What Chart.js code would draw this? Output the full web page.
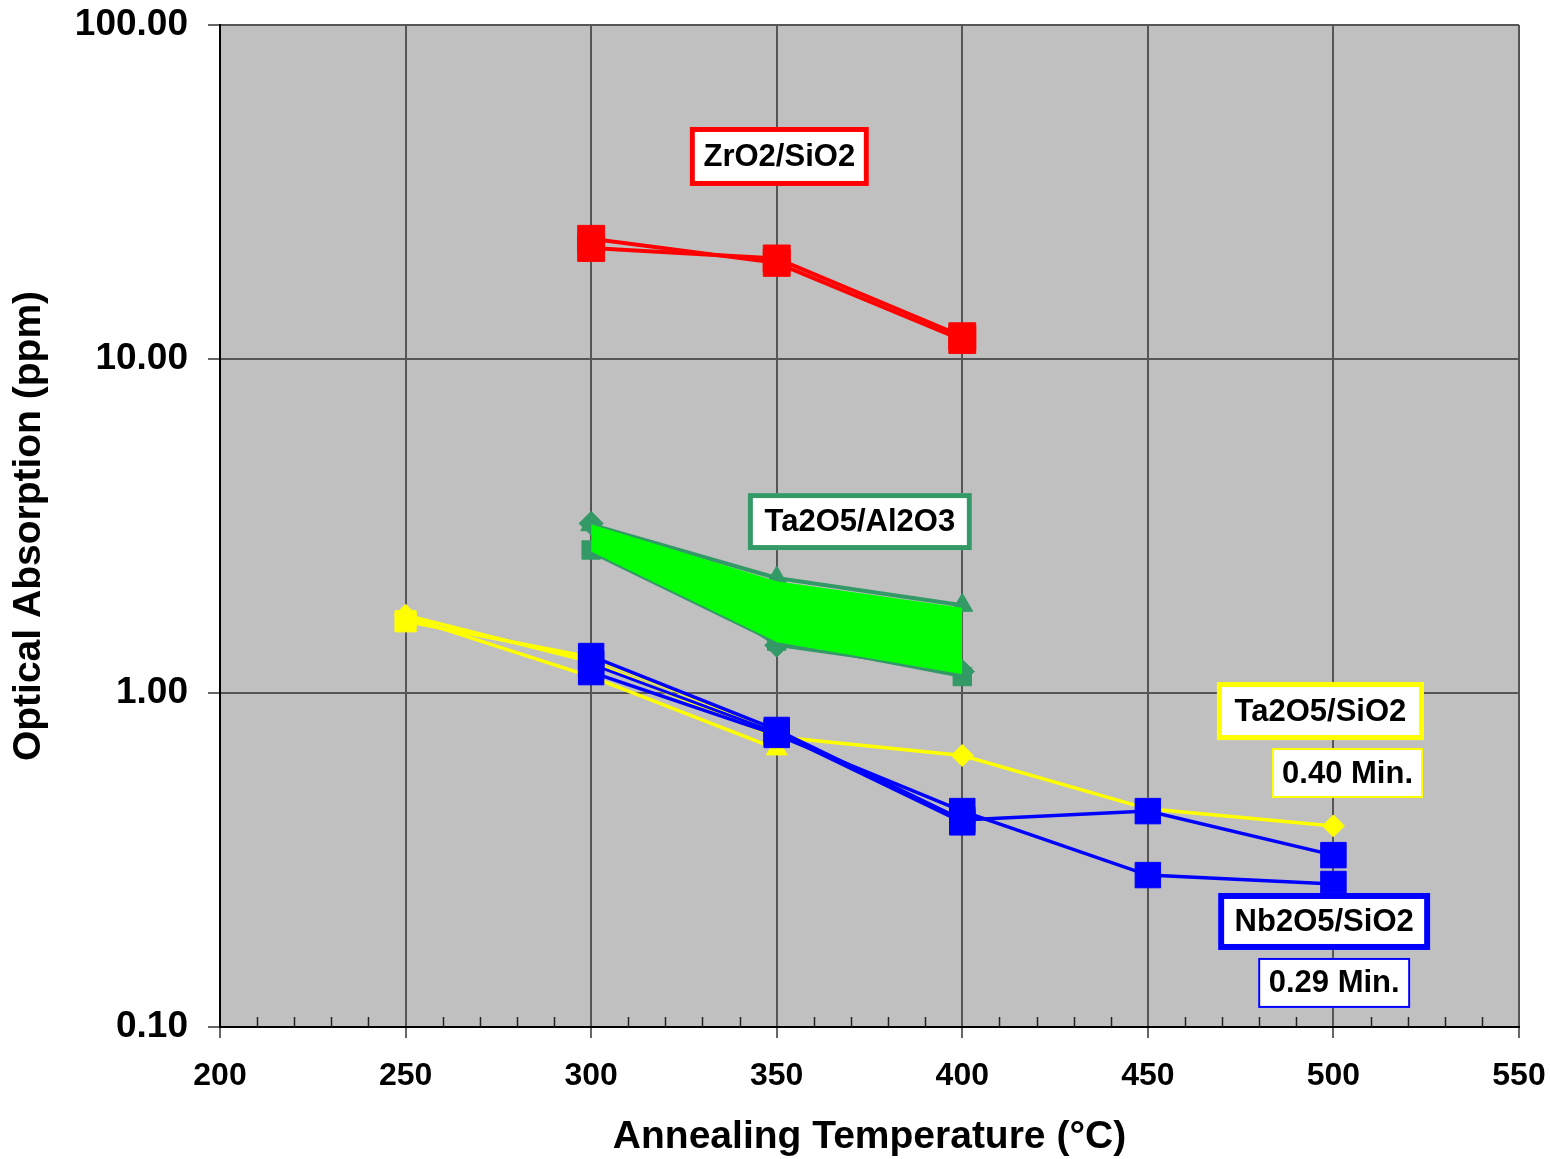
<!DOCTYPE html>
<html>
<head>
<meta charset="utf-8">
<script src="https://cdn.jsdelivr.net/npm/chart.js@4.4.0/dist/chart.umd.min.js"></script>
<style>
  html, body { margin: 0; padding: 0; background: #fff; }
  canvas { display: block; }
</style>
</head>
<body>
<canvas id="absChart" width="1550" height="1159"></canvas>
<script>
// annealing temperatures (°C)
var temps = [250, 300, 350, 400, 450, 500];

// ZrO2/SiO2 runs
var zrA = [null, 22.9, 19.4, 11.4, null, null];
var zrB = [null, 21.5, 20.0, 11.7, null, null];

// Nb2O5/SiO2 runs
var nbA = [null, 1.29, 0.775, 0.417, 0.443, 0.327];
var nbB = [null, 1.155, 0.749, 0.443, 0.285, 0.268];
var nbC = [null, 1.22, 0.76, 0.41, null, null];

// Ta2O5/SiO2 runs
var taSiDia = [1.71, 1.24, 0.74, 0.65, 0.45, 0.40];
var taSiSq  = [1.64, 1.28, 0.77, null, null, null];
var taSiTri = [1.69, 1.12, 0.68, null, null, null];

// Ta2O5/Al2O3 runs + shaded band
var taAlTri = [null, 3.19, 2.21, 1.83, null, null];
var taAlDia = [null, 3.22, 1.39, 1.16, null, null];
var taAlSq  = [null, 2.68, 1.43, 1.12, null, null];
var bandTop = [null, 3.2, 2.16, 1.80, null, null];
var bandBot = [null, 2.63, 1.41, 1.13, null, null];

var yTicks = [0.1, 1, 10, 100];

var fontFam = "'Liberation Sans', Arial, sans-serif";
Chart.defaults.font.family = fontFam;

function pts(vals) {
    return temps.map(function(t, i) { return {x: t, y: vals[i]}; })
                .filter(function(p) { return p.y !== null; });
}

function series(vals, color, style, radius, width) {
    return {
        data: pts(vals),
        borderColor: color,
        backgroundColor: color,
        borderWidth: width,
        pointStyle: style,
        pointRadius: radius,
        pointBorderWidth: 1,
        pointBorderColor: color,
        pointBackgroundColor: color,
        fill: false,
        tension: 0
    };
}

var RED = '#FF0000', BLUE = '#0000FF', YEL = '#FFFF00', SEA = '#339966', LIME = '#00FF00';

var datasets = [
    series(zrA, RED, 'rect', 19, 4),
    series(zrB, RED, 'rect', 19, 4),
    series(nbA, BLUE, 'rect', 18, 3.5),
    series(nbB, BLUE, 'rect', 18, 3.5),
    series(nbC, BLUE, 'rect', 18, 3),
    series(taSiDia, YEL, 'rectRot', 11, 3.5),
    series(taSiSq, YEL, 'rect', 15, 3.5),
    series(taSiTri, YEL, 'triangle', 12, 3.5),
    // band: top edge (invisible) then bottom edge filled up to it
    { data: pts(bandTop), borderWidth: 0, borderColor: 'rgba(0,0,0,0)', pointRadius: 0, fill: false },
    { data: pts(bandBot), borderColor: SEA, borderWidth: 2, pointRadius: 0, backgroundColor: LIME, fill: '-1' },
    series(taAlTri, SEA, 'triangle', 12, 4),
    series(taAlDia, SEA, 'rectRot', 12, 3),
    series(taAlSq, SEA, 'rect', 13, 3)
];

// text boxes, centred on data coordinates
var boxes = [
    {text: 'ZrO2/SiO2',   x: 350.7, y: 40.4,  w: 179, h: 59, border: RED,  bw: 5},
    {text: 'Ta2O5/Al2O3', x: 372.4, y: 3.26,  w: 224, h: 57, border: SEA,  bw: 5},
    {text: 'Ta2O5/SiO2',  x: 496.5, y: 0.883, w: 207, h: 58, border: YEL,  bw: 5},
    {text: '0.40 Min.',   x: 503.8, y: 0.576, w: 151, h: 50, border: YEL,  bw: 2},
    {text: 'Nb2O5/SiO2',  x: 497.5, y: 0.207, w: 212, h: 57, border: BLUE, bw: 6},
    {text: '0.29 Min.',   x: 500.2, y: 0.1355, w: 152, h: 50, border: BLUE, bw: 2}
];

var plotBg = {
    id: 'plotBg',
    beforeDraw: function(chart) {
        var ctx = chart.ctx, a = chart.chartArea;
        ctx.save();
        ctx.fillStyle = '#fff';
        ctx.fillRect(0, 0, chart.width, chart.height);
        ctx.fillStyle = '#C0C0C0';
        ctx.fillRect(a.left, a.top, a.right - a.left, a.bottom - a.top);
        ctx.restore();
    }
};

var minorTicks = {
    id: 'minorTicks',
    beforeDatasetsDraw: function(chart) {
        var ctx = chart.ctx, xs = chart.scales.x, a = chart.chartArea;
        ctx.save();
        ctx.strokeStyle = '#222';
        ctx.lineWidth = 1.5;
        for (var v = 210; v < 550; v += 10) {
            if (v % 50 === 0) continue;
            var px = Math.round(xs.getPixelForValue(v)) + 0.5;
            ctx.beginPath();
            ctx.moveTo(px, a.bottom);
            ctx.lineTo(px, a.bottom - 10);
            ctx.stroke();
        }
        ctx.restore();
    }
};

var textBoxes = {
    id: 'textBoxes',
    afterDatasetsDraw: function(chart) {
        var ctx = chart.ctx, xs = chart.scales.x, ys = chart.scales.y;
        ctx.save();
        boxes.forEach(function(b) {
            var cx = xs.getPixelForValue(b.x), cy = ys.getPixelForValue(b.y);
            var x0 = cx - b.w / 2, y0 = cy - b.h / 2;
            ctx.fillStyle = '#fff';
            ctx.fillRect(x0, y0, b.w, b.h);
            ctx.strokeStyle = b.border;
            ctx.lineWidth = b.bw;
            ctx.strokeRect(x0 + b.bw / 2, y0 + b.bw / 2, b.w - b.bw, b.h - b.bw);
            ctx.fillStyle = '#000';
            ctx.font = 'bold 31px ' + fontFam;
            ctx.textAlign = 'center';
            ctx.textBaseline = 'middle';
            ctx.fillText(b.text, cx, cy + 1);
        });
        ctx.restore();
    }
};

var absChart = new Chart(document.getElementById('absChart'), {
    type: 'line',
    data: { datasets: datasets },
    plugins: [plotBg, minorTicks, textBoxes],
    options: {
        responsive: false,
        animation: false,
        devicePixelRatio: 1,
        layout: { padding: {top: 25, right: 31, bottom: 0, left: 0} },
        plugins: { legend: {display: false}, tooltip: {enabled: false} },
        scales: {
            x: {
                type: 'linear',
                min: 200, max: 550,
                ticks: { stepSize: 50, color: '#000', padding: 19, maxRotation: 0,
                         font: {size: 32, weight: 'bold'} },
                grid: { color: '#555', lineWidth: 2, tickLength: 11, tickColor: '#333', tickWidth: 1.5 },
                border: { color: '#000', width: 2 },
                title: { display: true, text: 'Annealing Temperature (°C)', color: '#000',
                         font: {size: 39, weight: 'bold', lineHeight: 1}, padding: {top: 0, bottom: 2} },
                afterFit: function(s) {
                    s.height = 132;
                    s.paddingLeft = 0;
                    s.paddingRight = 0;
                }
            },
            y: {
                type: 'logarithmic',
                min: 0.1, max: 100,
                afterBuildTicks: function(s) {
                    s.ticks = yTicks.map(function(v) { return {value: v}; });
                },
                ticks: { color: '#000', padding: 20, font: {size: 37, weight: 'bold'},
                         callback: function(v) { return Number(v).toFixed(2); } },
                grid: { color: '#555', lineWidth: 2, tickLength: 12, tickColor: '#333', tickWidth: 1.5 },
                border: { color: '#000', width: 2 },
                title: { display: true, text: 'Optical Absorption (ppm)', color: '#000',
                         font: {size: 39, weight: 'bold', lineHeight: 1}, padding: {top: 10, bottom: 0} },
                afterFit: function(s) {
                    s.width = 220;
                    s.paddingTop = 0;
                    s.paddingBottom = 0;
                }
            }
        }
    }
});
</script>
</body>
</html>
